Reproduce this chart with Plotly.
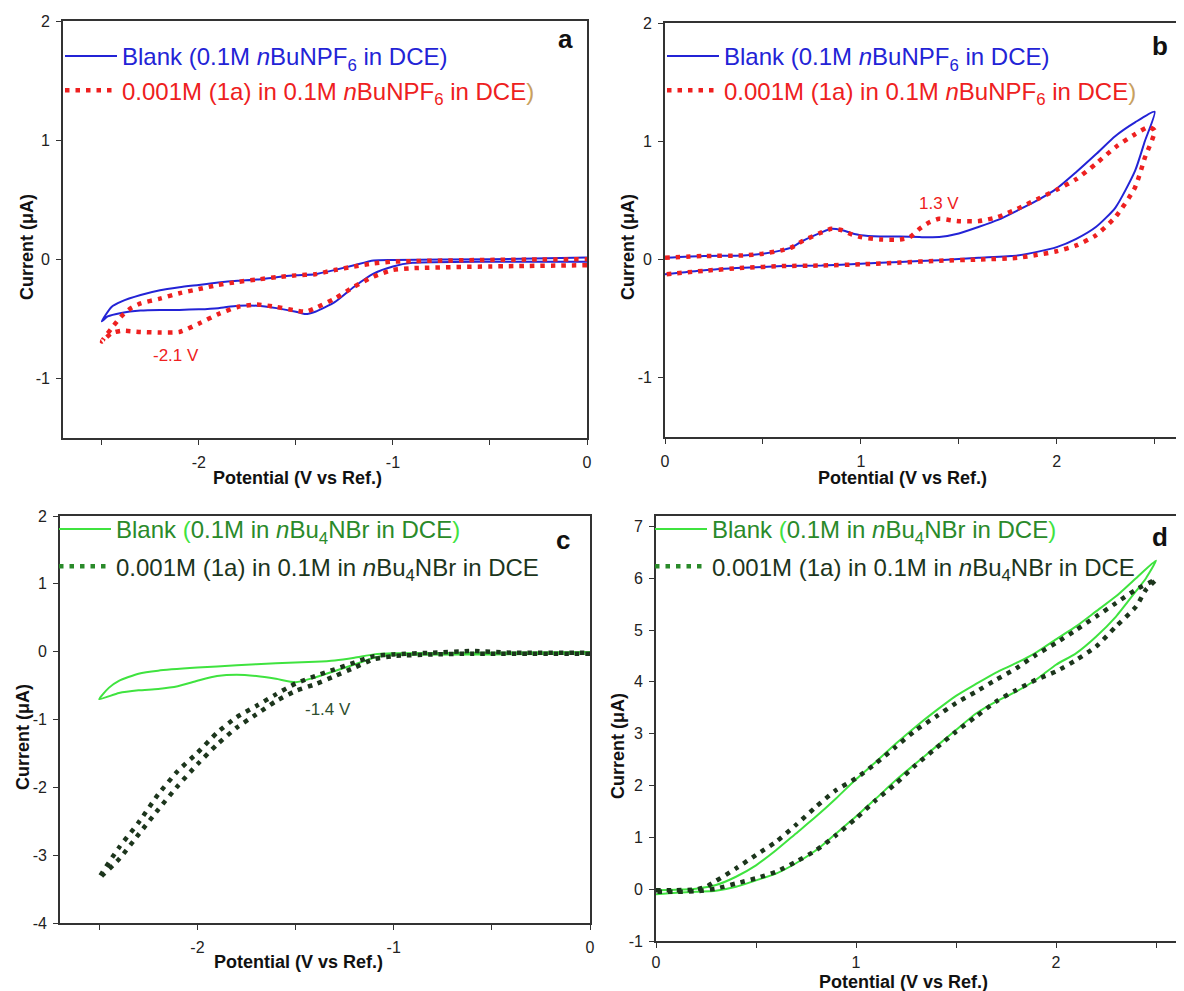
import plotly.graph_objects as go

# ---------------- data ----------------
# Panel a : nBuNPF6, cathodic window
a_blank_v = [0, -0.5, -0.9, -1.0, -1.1, -1.2, -1.3, -1.4, -1.45, -1.5, -1.6, -1.7, -1.8, -1.9, -2.0,
             -2.1, -2.2, -2.3, -2.4, -2.47, -2.5, -2.45, -2.4, -2.3, -2.2, -2.1, -2.0, -1.9, -1.8, -1.7,
             -1.6, -1.5, -1.4, -1.3, -1.2, -1.1, -1.0, -0.5, 0]
a_blank_i = [-0.02, -0.02, -0.03, -0.06, -0.12, -0.23, -0.36, -0.44, -0.46, -0.44, -0.41, -0.39, -0.39,
             -0.41, -0.42, -0.425, -0.425, -0.43, -0.45, -0.48, -0.52, -0.40, -0.355, -0.30, -0.26,
             -0.235, -0.215, -0.195, -0.18, -0.17, -0.15, -0.135, -0.125, -0.09, -0.05, -0.01, -0.005,
             0.0, 0.015]
a_sample_v = [0, -0.5, -0.9, -1.0, -1.1, -1.2, -1.3, -1.4, -1.45, -1.5, -1.6, -1.7, -1.8, -1.9, -2.0,
              -2.1, -2.2, -2.3, -2.4, -2.45, -2.5, -2.45, -2.4, -2.35, -2.3, -2.2, -2.1, -2.0, -1.9,
              -1.8, -1.7, -1.6, -1.5, -1.4, -1.3, -1.2, -1.1, -1.0, -0.5, 0]
a_sample_i = [-0.05, -0.06, -0.075, -0.09, -0.145, -0.23, -0.33, -0.41, -0.44, -0.43, -0.40, -0.38,
              -0.40, -0.46, -0.54, -0.61, -0.615, -0.61, -0.60, -0.62, -0.69, -0.58, -0.48, -0.41,
              -0.37, -0.33, -0.285, -0.25, -0.215, -0.19, -0.17, -0.15, -0.135, -0.125, -0.09, -0.06,
              -0.035, -0.02, -0.005, 0.0]

# Panel b : nBuNPF6, anodic window
b_blank_v = [0, 0.2, 0.4, 0.5, 0.6, 0.65, 0.7, 0.8, 0.85, 0.9, 0.95, 1.0, 1.1, 1.2, 1.3, 1.4, 1.5, 1.6,
             1.7, 1.8, 1.9, 2.0, 2.1, 2.2, 2.3, 2.4, 2.5, 2.45, 2.4, 2.3, 2.2, 2.1, 2.0, 1.9, 1.8, 1.6,
             1.4, 1.2, 1.0, 0.8, 0.6, 0.4, 0.2, 0]
b_blank_i = [0.015, 0.03, 0.035, 0.05, 0.08, 0.105, 0.155, 0.23, 0.26, 0.25, 0.225, 0.205, 0.195, 0.195,
             0.19, 0.19, 0.22, 0.275, 0.335, 0.415, 0.50, 0.60, 0.74, 0.89, 1.045, 1.16, 1.25, 1.0,
             0.75, 0.44, 0.275, 0.175, 0.105, 0.065, 0.035, 0.015, -0.005, -0.02, -0.035, -0.05,
             -0.055, -0.07, -0.09, -0.125]
b_sample_v = [0, 0.2, 0.4, 0.5, 0.6, 0.65, 0.7, 0.8, 0.85, 0.9, 0.95, 1.0, 1.1, 1.2, 1.25, 1.3, 1.35,
              1.4, 1.45, 1.5, 1.6, 1.7, 1.8, 1.9, 2.0, 2.1, 2.2, 2.3, 2.4, 2.47, 2.5, 2.45, 2.4, 2.3,
              2.2, 2.1, 2.0, 1.9, 1.8, 1.6, 1.4, 1.2, 1.0, 0.8, 0.6, 0.4, 0.2, 0]
b_sample_i = [0.015, 0.03, 0.035, 0.05, 0.08, 0.105, 0.155, 0.23, 0.26, 0.25, 0.215, 0.19, 0.17, 0.17,
              0.19, 0.26, 0.315, 0.345, 0.335, 0.325, 0.325, 0.36, 0.43, 0.51, 0.59, 0.68, 0.81,
              0.95, 1.06, 1.12, 1.09, 0.86, 0.61, 0.36, 0.205, 0.12, 0.07, 0.04, 0.015, 0.0, -0.01,
              -0.025, -0.04, -0.05, -0.055, -0.07, -0.095, -0.125]

# Panel c : nBu4NBr, cathodic window
c_blank_v = [0, -0.5, -1.0, -1.1, -1.2, -1.3, -1.4, -1.5, -1.6, -1.7, -1.8, -1.9, -2.0, -2.1, -2.2,
             -2.3, -2.4, -2.5, -2.45, -2.4, -2.3, -2.2, -2.0, -1.8, -1.6, -1.4, -1.3, -1.2, -1.1,
             -1.0, -0.5, 0]
c_blank_i = [-0.03, -0.04, -0.05, -0.09, -0.19, -0.285, -0.38, -0.45, -0.40, -0.36, -0.34, -0.36,
             -0.43, -0.51, -0.55, -0.57, -0.61, -0.70, -0.53, -0.43, -0.325, -0.28, -0.235, -0.20,
             -0.17, -0.15, -0.13, -0.09, -0.04, -0.025, -0.015, -0.005]
c_sample_v = [0, -0.6, -0.8, -1.0, -1.1, -1.2, -1.3, -1.4, -1.5, -1.6, -1.7, -1.8, -1.9, -2.0, -2.1,
              -2.2, -2.3, -2.4, -2.5, -2.4, -2.3, -2.2, -2.1, -2.0, -1.9, -1.8, -1.7, -1.6, -1.5,
              -1.4, -1.3, -1.2, -1.1, -1.0, -0.8, -0.6, -0.4, 0]
c_sample_i = [-0.03, -0.03, -0.04, -0.065, -0.11, -0.235, -0.36, -0.48, -0.58, -0.73, -0.925, -1.12,
              -1.37, -1.66, -1.98, -2.33, -2.695, -3.06, -3.335, -2.89, -2.52, -2.105, -1.76, -1.49,
              -1.195, -0.965, -0.80, -0.63, -0.47, -0.36, -0.26, -0.16, -0.065, -0.04, -0.015, 0.01,
              -0.015, -0.015]

# Panel d : nBu4NBr, anodic window
d_blank_v = [0, 0.1, 0.2, 0.3, 0.4, 0.5, 0.6, 0.7, 0.8, 0.9, 1.0, 1.1, 1.2, 1.3, 1.4, 1.5, 1.6, 1.7,
             1.8, 1.9, 2.0, 2.1, 2.2, 2.3, 2.4, 2.5, 2.45, 2.4, 2.3, 2.2, 2.1, 2.0, 1.9, 1.8, 1.7, 1.6,
             1.5, 1.4, 1.3, 1.2, 1.1, 1.0, 0.9, 0.8, 0.7, 0.6, 0.5, 0.4, 0.3, 0.2, 0.1, 0]
d_blank_i = [-0.02, -0.01, 0.01, 0.08, 0.24, 0.46, 0.75, 1.075, 1.40, 1.75, 2.12, 2.46, 2.81, 3.14,
             3.445, 3.73, 3.96, 4.18, 4.36, 4.565, 4.82, 5.07, 5.36, 5.65, 6.0, 6.34, 6.0, 5.75,
             5.26, 4.87, 4.55, 4.33, 4.04, 3.81, 3.62, 3.39, 3.07, 2.75, 2.43, 2.105, 1.75, 1.40,
             1.075, 0.75, 0.50, 0.30, 0.17, 0.045, -0.03, -0.05, -0.07, -0.10]
d_sample_v = [0, 0.1, 0.2, 0.25, 0.3, 0.4, 0.5, 0.6, 0.7, 0.8, 0.9, 1.0, 1.1, 1.2, 1.3, 1.4, 1.5, 1.6,
              1.7, 1.8, 1.9, 2.0, 2.1, 2.2, 2.3, 2.4, 2.5, 2.45, 2.4, 2.3, 2.2, 2.1, 2.0, 1.9, 1.8,
              1.7, 1.6, 1.5, 1.4, 1.3, 1.2, 1.1, 1.0, 0.9, 0.8, 0.7, 0.6, 0.5, 0.4, 0.3, 0.2, 0.1, 0]
d_sample_i = [-0.02, -0.02, -0.005, 0.045, 0.16, 0.40, 0.66, 0.915, 1.24, 1.59, 1.91, 2.14, 2.43,
              2.75, 3.07, 3.33, 3.59, 3.81, 4.04, 4.26, 4.52, 4.75, 5.00, 5.26, 5.52, 5.78, 5.97,
              5.78, 5.45, 5.07, 4.68, 4.42, 4.20, 4.04, 3.84, 3.62, 3.33, 3.04, 2.72, 2.40, 2.04,
              1.72, 1.365, 1.04, 0.75, 0.53, 0.335, 0.21, 0.11, 0.01, -0.04, -0.05, -0.05]

# tick labels
neg_tickvals = [-2, -1, 0]
neg_ticktext = ["-2", "-1", "0"]
neg_minor = [-2.5, -1.5, -0.5]
pos_tickvals = [0, 1, 2]
pos_ticktext = ["0", "1", "2"]
pos_minor = [0.5, 1.5, 2.5]

# legend texts
leg_a1 = "Blank (0.1M <i>n</i>BuNPF<sub>6</sub> in DCE)"
leg_a2 = "0.001M (1a) in 0.1M <i>n</i>BuNPF<sub>6</sub> in DCE"
leg_c2 = "0.001M (1a) in 0.1M in <i>n</i>Bu<sub>4</sub>NBr in DCE"

# ---------------- styles ----------------
BLUE = "#2323d6"
RED = "#ee2020"
LGREEN = "#3fe33f"
DGREEN = "#1c351c"
MGREEN = "#2a8a2a"
TAN = "#c8a060"
FONT = "Arial, Liberation Sans, sans-serif"
DOT = "4.5px,6px"

# the page body has an 8px margin: size the figure so it fits the 1184x991 window
OFF = 8
W, H = 1184 - OFF, 991 - OFF

def px_x(p):
    return (p - OFF) / W

def px_y(p):
    return 1 - (p - OFF) / H

fig = go.Figure()

def add_line(x, y, color, axis, legend, name, dash=None, width=2.0, show=True):
    fig.add_trace(go.Scatter(
        x=x, y=y, mode="lines", name=name,
        line=dict(color=color, width=width, dash=dash, shape="spline", smoothing=0.6),
        xaxis="x" + axis, yaxis="y" + axis, legend=legend, showlegend=show,
        legendgroup=legend + name[:12], hoverinfo="skip"))

# panel a
add_line(a_blank_v, a_blank_i, BLUE, "", "legend",
         f"<span style='color:{BLUE}'>{leg_a1}</span>")
add_line(a_sample_v, a_sample_i, RED, "", "legend",
         f"<span style='color:{RED}'>{leg_a2}</span><span style='color:{TAN}'>)</span>",
         dash=DOT, width=4.5)
# panel b
add_line(b_blank_v, b_blank_i, BLUE, "2", "legend2",
         f"<span style='color:{BLUE}'>{leg_a1}</span>")
add_line(b_sample_v, b_sample_i, RED, "2", "legend2",
         f"<span style='color:{RED}'>{leg_a2}</span><span style='color:{TAN}'>)</span>",
         dash=DOT, width=4.5)

green_leg1 = (f"<span style='color:{MGREEN}'>Blank </span><span style='color:{LGREEN}'>(</span>"
              f"<span style='color:{MGREEN}'>0.1M in <i>n</i>Bu<sub>4</sub>NBr in DCE</span>"
              f"<span style='color:{LGREEN}'>)</span>")
green_leg2 = f"<span style='color:{DGREEN}'>{leg_c2}</span>"

# panel c
add_line(c_blank_v, c_blank_i, LGREEN, "3", "legend3", green_leg1)
add_line(c_sample_v, c_sample_i, DGREEN, "3", "legend3", green_leg2, dash=DOT, width=4.5, show=False)
fig.add_trace(go.Scatter(x=[None], y=[None], mode="lines", name=green_leg2,
                         line=dict(color=MGREEN, width=4.5, dash=DOT),
                         xaxis="x3", yaxis="y3", legend="legend3", legendgroup="l3b"))
# panel d
add_line(d_blank_v, d_blank_i, LGREEN, "4", "legend4", green_leg1)
add_line(d_sample_v, d_sample_i, DGREEN, "4", "legend4", green_leg2, dash=DOT, width=4.5, show=False)
fig.add_trace(go.Scatter(x=[None], y=[None], mode="lines", name=green_leg2,
                         line=dict(color=MGREEN, width=4.5, dash=DOT),
                         xaxis="x4", yaxis="y4", legend="legend4", legendgroup="l4b"))

axis_common = dict(showline=True, linecolor="#333333", linewidth=1.6, mirror=True,
                   ticks="outside", ticklen=5, tickwidth=1.3, tickcolor="#333333",
                   showgrid=False, zeroline=False, automargin=False,
                   tickfont=dict(family=FONT, size=16, color="#222222"))

def xax(dom, rng, tv, tt, mv, anchor, standoff=4):
    return dict(axis_common, domain=dom, range=rng, tickvals=tv, ticktext=tt,
                minor=dict(tickvals=mv, ticks="outside", ticklen=5, tickwidth=1.3,
                           tickcolor="#333333", showgrid=False),
                anchor=anchor, ticklabelstandoff=standoff)

def yax(dom, rng, tv, anchor):
    return dict(axis_common, domain=dom, range=rng, tickvals=tv,
                ticktext=[str(v) for v in tv], anchor=anchor, ticklabelstandoff=3)

# pixel boxes in the window: (left, right, top, bottom)
box_a = (63, 587, 21, 438)
box_b = (665, 1184, 23, 437)
box_c = (60, 590, 516, 923)
box_d = (656, 1184, 516, 941)

def dom(box):
    l, r, t, b = box
    return [px_x(l), min(px_x(r), 1.0)], [px_y(b), min(px_y(t), 1.0)]

xa, ya = dom(box_a)
xb, yb = dom(box_b)
xc, yc = dom(box_c)
xd, yd = dom(box_d)

leg_common = dict(bgcolor="rgba(0,0,0,0)", borderwidth=0, xanchor="left", yanchor="top",
                  font=dict(family=FONT, size=24), itemwidth=52, tracegroupgap=3,
                  itemclick=False, itemdoubleclick=False)

fig.update_layout(
    width=W, height=H, margin=dict(l=0, r=0, t=0, b=0, autoexpand=False),
    paper_bgcolor="white", plot_bgcolor="white",
    xaxis=xax(xa, [-2.7, 0], neg_tickvals, neg_ticktext, neg_minor, "y"),
    yaxis=yax(ya, [-1.5, 2], [-1, 0, 1, 2], "x"),
    xaxis2=xax(xb, [0, 2.65], pos_tickvals, pos_ticktext, pos_minor, "y2"),
    yaxis2=yax(yb, [-1.5, 2], [-1, 0, 1, 2], "x2"),
    xaxis3=xax(xc, [-2.7, 0], neg_tickvals, neg_ticktext, neg_minor, "y3"),
    yaxis3=yax(yc, [-4, 2], [-4, -3, -2, -1, 0, 1, 2], "x3"),
    xaxis4=xax(xd, [0, 2.64], pos_tickvals, pos_ticktext, pos_minor, "y4", standoff=1),
    yaxis4=yax(yd, [-1, 7.2], [-1, 0, 1, 2, 3, 4, 5, 6, 7], "x4"),
    legend=dict(leg_common, x=px_x(60), y=px_y(34)),
    legend2=dict(leg_common, x=px_x(662), y=px_y(34)),
    legend3=dict(leg_common, x=px_x(54), y=px_y(507)),
    legend4=dict(leg_common, x=px_x(650), y=px_y(507)),
    showlegend=True,
)

ann = []
# axis titles
for (cx, cy) in [(297, 478), (902, 478), (298, 962), (903, 982)]:
    ann.append(dict(text="<b>Potential (V vs Ref.)</b>", x=px_x(cx), y=px_y(cy), xref="paper",
                    yref="paper", showarrow=False, xanchor="center", yanchor="middle",
                    font=dict(family=FONT, size=18, color="#111111")))
for (cx, cy) in [(27, 247), (628, 247), (23, 737), (618, 746)]:
    ann.append(dict(text="<b>Current (μA)</b>", x=px_x(cx), y=px_y(cy), xref="paper",
                    yref="paper", showarrow=False, textangle=-90, xanchor="center",
                    yanchor="middle", font=dict(family=FONT, size=18, color="#111111")))
# panel letters
for (lab, cx, cy) in [("a", 565, 39), ("b", 1160, 46), ("c", 563, 540), ("d", 1160, 537)]:
    ann.append(dict(text=f"<b>{lab}</b>", x=px_x(cx), y=px_y(cy), xref="paper", yref="paper",
                    showarrow=False, xanchor="center", yanchor="middle",
                    font=dict(family=FONT, size=26, color="#111111")))
# peak labels (data coordinates)
ann.append(dict(text="-2.1 V", x=-2.12, y=-0.81, xref="x", yref="y", showarrow=False,
                font=dict(family=FONT, size=17, color=RED)))
ann.append(dict(text="1.3 V", x=1.40, y=0.47, xref="x2", yref="y2", showarrow=False,
                font=dict(family=FONT, size=17, color=RED)))
ann.append(dict(text="-1.4 V", x=-1.335, y=-0.85, xref="x3", yref="y3", showarrow=False,
                font=dict(family=FONT, size=17, color="#2f4f2f")))
fig.update_layout(annotations=ann)

fig.write_html("out.html")
